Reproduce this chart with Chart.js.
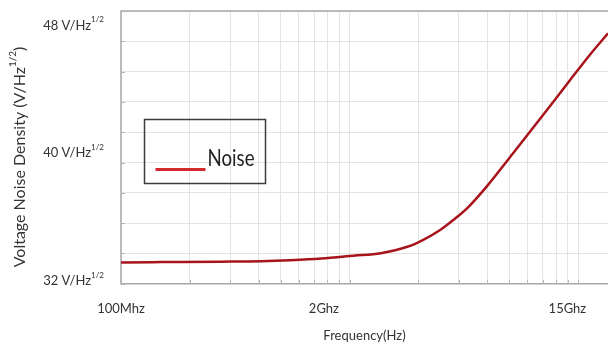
<!DOCTYPE html>
<html>
<head>
<meta charset="utf-8">
<title>Voltage noise density</title>
<script src="https://cdn.jsdelivr.net/npm/chart.js@4.4.1/dist/chart.umd.min.js"></script>
<style>
  html, body { margin: 0; padding: 0; background: #fff; }
  canvas { display: block; }
</style>
</head>
<body>
<canvas id="noise" width="608" height="346"></canvas>
<script>
// frequency (Hz) and noise density (V/Hz^1/2)
const freqs = [1e8, 1.5e8, 2.73e8, 4.1e8, 5.5e8, 7.5e8, 1.04e9, 1.37e9, 1.79e9, 2.1e9,
               2.5e9, 2.85e9, 3.28e9, 4.0e9, 5.2e9, 7.3e9, 9.2e9, 1.13e10, 1.35e10];
const noise = [33.14, 33.16, 33.19, 33.22, 33.28, 33.38, 33.56, 33.72, 34.12, 34.56,
               35.19, 35.81, 36.56, 37.94, 40.0, 42.69, 44.56, 46.19, 47.5];

// label slots along the bottom axis
const xLabels = ['100Mhz', '', '', '', '', '2Ghz', '', '', '', '', '', '15Ghz', ''];
const yTicks = [32, 40, 48];
// log grid lines
const gridFreqs = [1e8, 2e8, 3e8, 4e8, 5e8, 6e8, 7e8, 8e8, 9e8,
                   1e9, 2e9, 3e9, 4e9, 5e9, 6e9, 7e9, 8e9, 9e9, 1e10];

const FONT = 'Lato, "Open Sans", sans-serif';
const TEXT = '#333333';
const GRID = '#e4e4e4';
const LABEL_GAP = 17;

// width of base text plus a small "1/2"
let supWidth = function(ctx, base, sup, size) {
    ctx.font = size + 'px ' + FONT;
    let w = ctx.measureText(base).width;
    ctx.font = Math.round(size * 0.62) + 'px ' + FONT;
    return w + ctx.measureText(sup).width;
};
// writes base text followed by a raised "1/2", returns the end x
let drawSup = function(ctx, base, sup, x, y, size) {
    ctx.font = size + 'px ' + FONT;
    ctx.fillText(base, x, y);
    let w = ctx.measureText(base).width;
    ctx.font = Math.round(size * 0.62) + 'px ' + FONT;
    ctx.fillText(sup, x + w, y - size * 0.42);
    return x + w + ctx.measureText(sup).width;
};

const decorations = {
    id: 'decorations',
    beforeDatasetsDraw(chart) {
        const {ctx, chartArea: a, scales} = chart;
        ctx.save();
        ctx.strokeStyle = '#a8a8a8';
        ctx.lineWidth = 1.5;
        ctx.beginPath();
        ctx.moveTo(chart.width, a.top);
        ctx.lineTo(a.left, a.top);
        ctx.lineTo(a.left, a.bottom);
        ctx.lineTo(chart.width, a.bottom);
        ctx.stroke();

        // short inner tick marks on the left and bottom edges
        ctx.lineWidth = 1;
        ctx.strokeStyle = '#b4b4b4';
        ctx.beginPath();
        scales.yg.ticks.forEach((t) => {
            let y = Math.round(scales.yg.getPixelForValue(t.value)) + 0.5;
            ctx.moveTo(a.left, y);
            ctx.lineTo(a.left + 4, y);
        });
        scales.x.ticks.forEach((t) => {
            let x = Math.round(scales.x.getPixelForValue(t.value)) + 0.5;
            ctx.moveTo(x, a.bottom);
            ctx.lineTo(x, a.bottom - 4);
        });
        ctx.stroke();
        ctx.restore();
    },
    afterDraw(chart) {
        const {ctx, chartArea: a} = chart;
        const ys = chart.scales.y;
        ctx.save();
        ctx.fillStyle = TEXT;
        ctx.textAlign = 'left';
        ctx.textBaseline = 'middle';

        // y tick labels
        yTicks.forEach((v) => {
            let base = v + ' V/Hz';
            let w = supWidth(ctx, base, '1/2', 13);
            drawSup(ctx, base, '1/2', a.left - 17 - w, ys.getPixelForValue(v), 13);
        });

        // y title, rotated
        ctx.save();
        ctx.translate(20, 157);
        ctx.rotate(-Math.PI / 2);
        let t1 = 'Voltage Noise Density (V/Hz';
        let total = supWidth(ctx, t1, '1/2', 16);
        ctx.font = '16px ' + FONT;
        total += ctx.measureText(')').width;
        let x = drawSup(ctx, t1, '1/2', -total / 2, 0, 16);
        ctx.font = '16px ' + FONT;
        ctx.fillText(')', x, 0);
        ctx.restore();

        // legend box
        const ds = chart.data.datasets[0];
        const bx = a.left + 23.5, by = a.top + 108.5;
        ctx.strokeStyle = '#3c3c3c';
        ctx.lineWidth = 1.5;
        ctx.strokeRect(bx, by, 121, 64);
        ctx.strokeStyle = '#d32a2e';
        ctx.lineWidth = 3;
        ctx.beginPath();
        ctx.moveTo(bx + 11, by + 50);
        ctx.lineTo(bx + 61, by + 50);
        ctx.stroke();
        ctx.fillStyle = '#222';
        ctx.textBaseline = 'alphabetic';
        ctx.font = '23px ' + FONT;
        ctx.fillText(ds.label, bx + 63, by + 46, 47);
        ctx.restore();
    }
};

const chart = new Chart(document.getElementById('noise').getContext('2d'), {
    type: 'line',
    data: {
        datasets: [{
            label: 'Noise',
            data: freqs.map((f, i) => ({x: f, y: noise[i]})),
            borderColor: '#a9141c',
            borderWidth: 2.5,
            pointRadius: 0,
            cubicInterpolationMode: 'monotone',
            xAxisID: 'x',
            yAxisID: 'y',
        }]
    },
    options: {
        responsive: false,
        animation: false,
        events: [],
        layout: {
            padding: {left: 121, top: 11, right: 0, bottom: 2}
        },
        plugins: {
            legend: {display: false},
            tooltip: {enabled: false},
        },
        scales: {
            x: {
                type: 'logarithmic',
                min: 1e8,
                max: 1.35e10,
                afterBuildTicks: (s) => { s.ticks = gridFreqs.map((v) => ({value: v})); },
                ticks: {display: false},
                grid: {color: GRID, drawTicks: false},
                border: {display: false},
            },
            xl: {
                type: 'category',
                labels: xLabels,
                offset: false,
                position: 'bottom',
                grid: {display: false, drawTicks: false},
                border: {display: false},
                ticks: {
                    autoSkip: false,
                    maxRotation: 0,
                    padding: LABEL_GAP,
                    color: TEXT,
                    font: {family: FONT, size: 13},
                },
                title: {
                    display: true,
                    text: 'Frequency(Hz)',
                    color: TEXT,
                    font: {family: FONT, size: 13},
                    padding: {top: 12, bottom: 0},
                },
                // tick padding is counted twice in the height and added on the right
                afterFit: (s) => {
                    s.height -= LABEL_GAP;
                    s.paddingRight = 0;
                },
            },
            y: {
                min: 31.8,
                max: 48.9,
                afterBuildTicks: (s) => { s.ticks = yTicks.map((v) => ({value: v})); },
                ticks: {display: false},
                grid: {display: false, drawTicks: false},
                border: {display: false},
            },
            yg: {
                min: 0,
                max: 9,
                ticks: {display: false, stepSize: 1},
                grid: {color: GRID, drawTicks: false},
                border: {display: false},
            },
        }
    },
    plugins: [decorations]
});
</script>
</body>
</html>
